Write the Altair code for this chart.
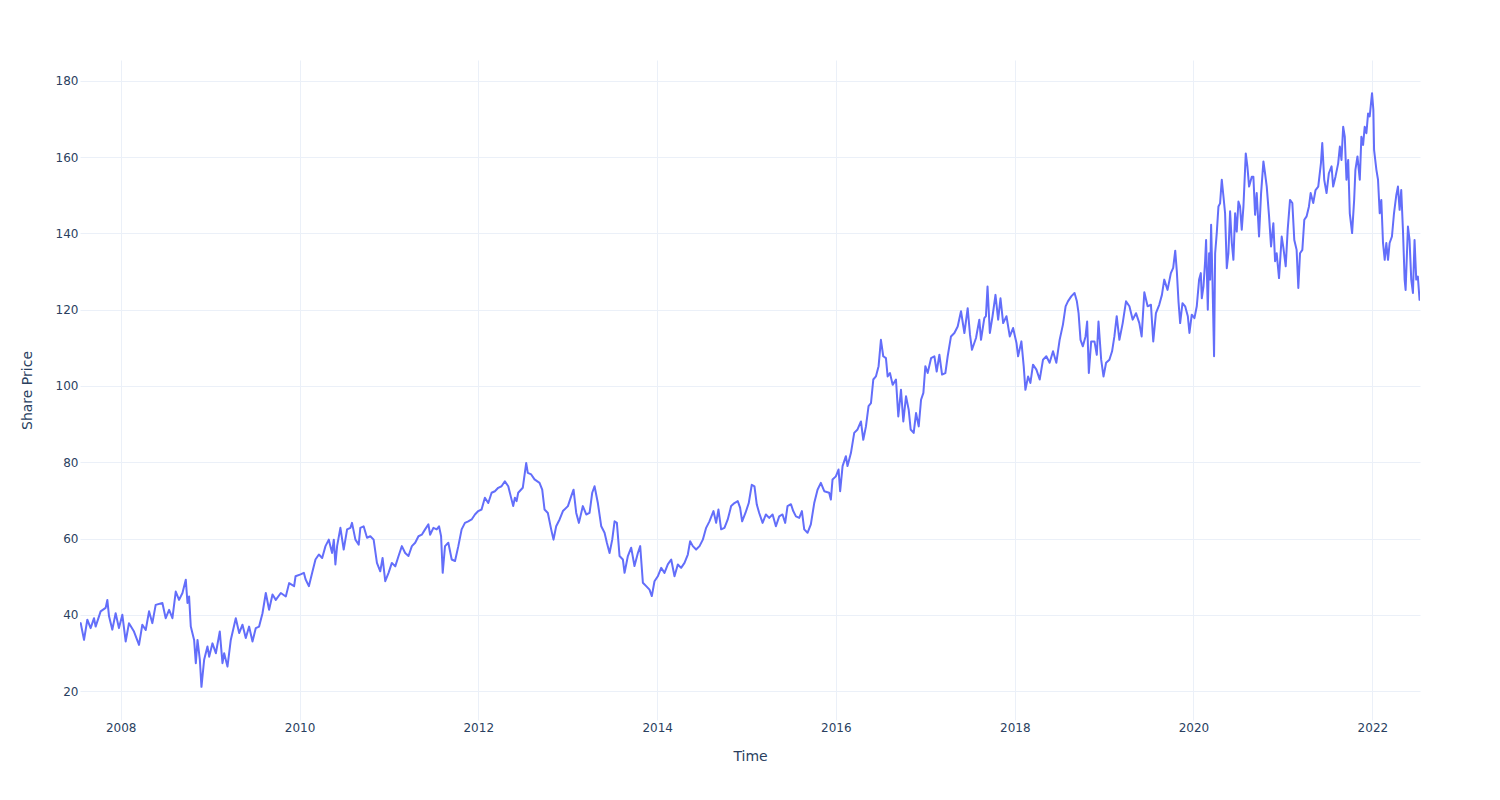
import altair as alt
import pandas as pd

# ---- data (decimal year, share price) ----
t_2007_2009 = [2007.545, 2007.553, 2007.590, 2007.627, 2007.664, 2007.702, 2007.720, 2007.776, 2007.832, 2007.851,
               2007.870, 2007.907, 2007.944, 2007.981, 2008.019, 2008.056, 2008.093, 2008.149, 2008.205, 2008.242,
               2008.280, 2008.317, 2008.354, 2008.391, 2008.466, 2008.503, 2008.541, 2008.578, 2008.615, 2008.652,
               2008.690, 2008.727, 2008.746, 2008.764, 2008.783, 2008.820, 2008.839, 2008.858, 2008.884, 2008.902,
               2008.932, 2008.969, 2008.988, 2009.025, 2009.063, 2009.107, 2009.137, 2009.156, 2009.193, 2009.230,
               2009.286, 2009.324, 2009.361, 2009.398, 2009.435, 2009.473, 2009.510, 2009.547, 2009.585, 2009.622,
               2009.659, 2009.697, 2009.734, 2009.790, 2009.846, 2009.883, 2009.939]
v_2007_2009 = [37.3, 37.8, 33.4, 38.7, 36.5, 39.1, 36.9, 40.9, 41.8, 43.9,
               39.6, 36.1, 40.4, 36.5, 40.0, 33.0, 37.8, 35.6, 32.1, 37.4,
               36.0, 40.9, 37.8, 42.6, 43.1, 39.1, 41.3, 39.1, 46.1, 43.9,
               45.7, 49.2, 43.1, 44.8, 36.9, 33.4, 27.3, 33.4, 28.2, 21.1,
               28.2, 31.7, 29.0, 32.5, 29.9, 35.6, 27.3, 29.9, 26.4, 33.4,
               39.1, 35.2, 37.4, 33.9, 36.9, 33.0, 36.5, 36.9, 40.4, 45.7,
               41.3, 45.3, 43.9, 45.7, 44.8, 48.3, 47.5]

t_2010_2012 = [2009.955, 2010.011, 2010.048, 2010.067, 2010.104, 2010.141, 2010.178, 2010.216, 2010.253, 2010.290,
               2010.327, 2010.364, 2010.383, 2010.401, 2010.420, 2010.457, 2010.494, 2010.532, 2010.569, 2010.587,
               2010.625, 2010.662, 2010.680, 2010.717, 2010.755, 2010.792, 2010.829, 2010.866, 2010.903, 2010.929,
               2010.959, 2010.996, 2011.033, 2011.071, 2011.108, 2011.145, 2011.182, 2011.219, 2011.257, 2011.294,
               2011.331, 2011.368, 2011.405, 2011.442, 2011.461, 2011.498, 2011.535, 2011.561, 2011.584, 2011.602,
               2011.628, 2011.665, 2011.703, 2011.740, 2011.777, 2011.814, 2011.851, 2011.888, 2011.926, 2011.963,
               2012.000, 2012.037, 2012.074, 2012.112, 2012.149, 2012.186, 2012.223, 2012.260, 2012.297, 2012.335,
               2012.372, 2012.390, 2012.409, 2012.428, 2012.446]
v_2010_2012 = [50.1, 50.6, 51.0, 49.3, 47.5, 51.0, 54.5, 55.8, 54.9, 58.0,
               59.7, 56.2, 59.7, 53.2, 58.0, 62.8, 57.1, 62.4, 62.8, 64.1,
               59.7, 58.4, 62.8, 63.2, 60.2, 60.6, 59.7, 53.6, 51.4, 54.9,
               48.8, 51.0, 53.6, 52.7, 55.4, 58.0, 56.2, 55.4, 58.0, 58.9,
               60.6, 61.0, 62.4, 63.7, 61.0, 62.8, 62.4, 63.2, 60.6, 51.0,
               58.0, 58.9, 54.5, 54.1, 58.0, 62.4, 64.1, 64.5, 65.0, 66.3,
               67.2, 67.6, 70.7, 69.3, 72.0, 72.4, 73.3, 73.7, 75.0, 73.7,
               70.2, 68.5, 70.7, 69.8, 72.0]

t_2012_2015 = [2012.497, 2012.535, 2012.553, 2012.591, 2012.628, 2012.684, 2012.714, 2012.740, 2012.777, 2012.814,
               2012.840, 2012.870, 2012.908, 2012.945, 2013.001, 2013.038, 2013.064, 2013.094, 2013.124, 2013.168,
               2013.206, 2013.243, 2013.273, 2013.299, 2013.336, 2013.374, 2013.411, 2013.437, 2013.467, 2013.497,
               2013.523, 2013.549, 2013.579, 2013.616, 2013.635, 2013.672, 2013.709, 2013.746, 2013.784, 2013.810,
               2013.840, 2013.877, 2013.914, 2013.940, 2013.970, 2014.007, 2014.045, 2014.082, 2014.119, 2014.157,
               2014.194, 2014.231, 2014.268, 2014.306, 2014.343, 2014.369, 2014.399, 2014.436, 2014.474, 2014.511,
               2014.548, 2014.585, 2014.630, 2014.660, 2014.686, 2014.716, 2014.753, 2014.790, 2014.828, 2014.865,
               2014.902, 2014.928, 2014.951, 2014.988, 2015.025, 2015.059, 2015.089, 2015.115]
v_2012_2015 = [73.3, 79.8, 77.2, 76.8, 75.5, 74.6, 72.8, 67.6, 66.7, 62.4,
               59.7, 63.2, 65.0, 67.2, 68.5, 71.1, 72.8, 66.7, 64.1, 68.5,
               66.3, 66.7, 72.0, 73.7, 69.3, 63.2, 61.5, 58.9, 56.2, 59.7,
               64.5, 64.1, 55.4, 54.5, 51.0, 55.4, 57.6, 52.8, 56.2, 58.0,
               48.4, 47.5, 46.6, 44.9, 48.8, 50.1, 52.3, 51.0, 53.2, 54.5,
               50.1, 53.2, 52.3, 53.6, 55.8, 59.3, 58.0, 57.1, 58.0, 59.7,
               62.8, 64.5, 67.2, 64.1, 67.6, 62.4, 62.8, 65.0, 68.5, 69.3,
               69.8, 68.1, 64.5, 66.7, 69.3, 74.1, 73.7, 68.9]

t_2015_2017 = [2015.142, 2015.180, 2015.217, 2015.254, 2015.292, 2015.329, 2015.366, 2015.403, 2015.433, 2015.459,
               2015.497, 2015.523, 2015.553, 2015.590, 2015.620, 2015.646, 2015.683, 2015.720, 2015.758, 2015.795,
               2015.832, 2015.870, 2015.925, 2015.944, 2015.963, 2016.000, 2016.030, 2016.048, 2016.075, 2016.112,
               2016.130, 2016.168, 2016.205, 2016.242, 2016.280, 2016.306, 2016.336, 2016.365, 2016.392, 2016.418,
               2016.447, 2016.477, 2016.503, 2016.529, 2016.559, 2016.578, 2016.604, 2016.634, 2016.671, 2016.697,
               2016.727, 2016.753, 2016.783, 2016.813, 2016.835, 2016.869, 2016.895, 2016.925, 2016.951, 2016.977,
               2016.999, 2017.025, 2017.063, 2017.100, 2017.126, 2017.156, 2017.186, 2017.223, 2017.249, 2017.286,
               2017.324, 2017.361, 2017.398, 2017.436, 2017.473, 2017.499, 2017.521, 2017.566, 2017.603, 2017.622,
               2017.659]
v_2015_2017 = [66.7, 64.1, 66.3, 65.4, 66.3, 63.2, 65.8, 66.3, 64.1, 68.5,
               69.0, 67.2, 65.8, 65.4, 67.2, 62.4, 61.5, 63.7, 69.3, 72.8,
               74.6, 72.4, 72.0, 70.2, 75.5, 76.3, 78.1, 72.4, 79.0, 81.6,
               79.0, 82.4, 87.7, 88.6, 90.7, 85.9, 89.4, 94.7, 95.5, 101.7,
               102.5, 105.2, 112.1, 107.8, 107.3, 102.5, 103.4, 100.3, 101.7, 92.0,
               99.0, 90.7, 97.3, 93.8, 88.6, 87.7, 92.9, 89.4, 96.4, 98.2,
               105.2, 103.4, 107.3, 107.8, 103.8, 108.2, 103.0, 103.4, 107.8, 113.0,
               113.9, 115.6, 119.6, 113.9, 120.4, 113.4, 109.5, 112.6, 117.4, 112.1,
               117.8]

t_2017_2019 = [2017.677, 2017.695, 2017.721, 2017.751, 2017.784, 2017.814, 2017.840, 2017.870, 2017.907, 2017.944,
               2017.981, 2018.019, 2018.037, 2018.074, 2018.100, 2018.119, 2018.149, 2018.175, 2018.204, 2018.242,
               2018.279, 2018.316, 2018.353, 2018.390, 2018.428, 2018.465, 2018.502, 2018.539, 2018.569, 2018.595,
               2018.632, 2018.669, 2018.695, 2018.714, 2018.736, 2018.762, 2018.792, 2018.810, 2018.829, 2018.855,
               2018.892, 2018.918, 2018.937, 2018.967, 2018.993, 2019.022, 2019.059, 2019.089, 2019.115, 2019.141,
               2019.171, 2019.208, 2019.245, 2019.283, 2019.320, 2019.357, 2019.394, 2019.420, 2019.450, 2019.487,
               2019.524, 2019.550, 2019.580, 2019.617, 2019.647, 2019.673, 2019.710, 2019.747, 2019.773, 2019.796,
               2019.814, 2019.833, 2019.851, 2019.877, 2019.907, 2019.937, 2019.955, 2019.981]
v_2017_2019 = [118.3, 126.1, 113.9, 118.3, 123.9, 117.4, 123.0, 116.5, 118.3, 113.0,
               115.2, 111.3, 107.8, 111.7, 105.2, 99.0, 102.5, 100.8, 105.6, 104.3,
               101.7, 106.9, 107.8, 106.1, 109.1, 106.1, 112.1, 116.1, 120.9, 122.2,
               123.5, 124.4, 122.2, 119.1, 112.1, 110.4, 113.0, 116.9, 103.4, 111.7,
               111.7, 108.2, 116.9, 106.9, 102.5, 106.1, 106.9, 109.1, 113.0, 118.3,
               112.1, 116.5, 122.2, 120.9, 117.4, 119.1, 116.5, 113.0, 124.6, 120.9,
               121.3, 111.7, 119.1, 121.3, 123.9, 127.9, 125.2, 129.6, 131.0, 135.5,
               130.0, 122.0, 116.5, 121.7, 120.9, 118.3, 113.9, 118.7]

t_2020_2022 = [2020.011, 2020.037, 2020.063, 2020.082, 2020.093, 2020.112, 2020.130, 2020.141, 2020.160, 2020.175,
               2020.186, 2020.197, 2020.212, 2020.230, 2020.242, 2020.260, 2020.279, 2020.297, 2020.316, 2020.335,
               2020.353, 2020.372, 2020.390, 2020.409, 2020.428, 2020.446, 2020.465, 2020.483, 2020.502, 2020.520,
               2020.539, 2020.558, 2020.584, 2020.602, 2020.621, 2020.651, 2020.669, 2020.688, 2020.706, 2020.732,
               2020.755, 2020.781, 2020.799, 2020.818, 2020.844, 2020.866, 2020.892, 2020.911, 2020.929, 2020.955,
               2020.985, 2021.004, 2021.030, 2021.052, 2021.078, 2021.104, 2021.126, 2021.152, 2021.171, 2021.190,
               2021.216, 2021.238, 2021.264, 2021.290, 2021.309, 2021.338, 2021.364, 2021.394, 2021.424, 2021.439,
               2021.461, 2021.487, 2021.513, 2021.543, 2021.561, 2021.587, 2021.617, 2021.636, 2021.654, 2021.673,
               2021.691, 2021.710, 2021.729, 2021.747, 2021.773, 2021.796, 2021.810, 2021.833, 2021.859, 2021.877,
               2021.896, 2021.914, 2021.933, 2021.952, 2021.970, 2021.996, 2022.011, 2022.019, 2022.045, 2022.063,
               2022.082, 2022.100, 2022.119, 2022.138, 2022.156, 2022.175, 2022.193, 2022.219, 2022.242, 2022.268,
               2022.286, 2022.305, 2022.323, 2022.342, 2022.361, 2022.372, 2022.398, 2022.416, 2022.435, 2022.454,
               2022.472, 2022.491, 2022.509, 2022.528, 2022.533]
v_2020_2022 = [117.8, 120.9, 127.9, 129.6, 123.0, 126.1, 132.7, 138.3, 120.0, 134.8,
               127.9, 142.3, 127.9, 107.8, 134.8, 140.1, 147.1, 147.9, 154.1, 149.7,
               145.3, 130.9, 134.8, 145.8, 137.5, 133.1, 145.3, 140.5, 148.4, 147.1,
               141.0, 147.1, 161.0, 157.6, 152.3, 154.9, 154.9, 144.9, 150.6, 139.2,
               150.6, 158.9, 155.8, 152.3, 144.5, 136.6, 142.7, 132.7, 134.8, 128.3,
               139.2, 136.2, 131.4, 141.0, 148.8, 148.0, 138.3, 135.7, 125.7, 134.8,
               135.7, 143.6, 144.5, 147.1, 150.6, 148.0, 151.4, 152.3, 158.4, 163.7,
               154.1, 150.6, 155.8, 157.6, 152.3, 154.9, 158.4, 162.8, 159.3, 168.0,
               165.4, 154.1, 159.3, 145.3, 140.1, 148.8, 156.7, 160.2, 154.1, 165.4,
               163.2, 168.0, 166.3, 171.5, 170.7, 176.8, 172.4, 161.9, 156.7, 154.1,
               145.3, 148.8, 137.5, 133.1, 137.5, 133.1, 137.5, 139.2, 145.3, 150.1,
               152.3, 146.2, 151.4, 141.0, 127.9, 125.2, 141.8, 138.3, 127.9, 124.4,
               138.3, 127.9, 128.7, 122.6, 123.0]

years = t_2007_2009 + t_2010_2012 + t_2012_2015 + t_2015_2017 + t_2017_2019 + t_2020_2022
prices = v_2007_2009 + v_2010_2012 + v_2012_2015 + v_2015_2017 + v_2017_2019 + v_2020_2022

x_tick_years = [2008, 2010, 2012, 2014, 2016, 2018, 2020, 2022]
y_ticks = [20, 40, 60, 80, 100, 120, 140, 160, 180]
y_domain = [12.4, 185.5]


def dec_to_ts(t):
    y = int(t)
    start = pd.Timestamp(year=y, month=1, day=1)
    end = pd.Timestamp(year=y + 1, month=1, day=1)
    return start + (end - start) * (t - y)


def to_dt(ts):
    return alt.DateTime(year=ts.year, month=ts.month, date=ts.day, hours=ts.hour, minutes=ts.minute)


stamps = [dec_to_ts(t) for t in years]
df = pd.DataFrame({"date": [s.strftime("%Y-%m-%dT%H:%M:%S") for s in stamps], "price": prices})

FONT = "DejaVu Sans"
TXT = "#2a3f5f"
GRID = "#EBF0F8"

x_axis = alt.Axis(
    values=[alt.DateTime(year=y, month=1, date=1) for y in x_tick_years],
    format="%Y", grid=True, gridColor=GRID, gridWidth=1, domain=False, ticks=False, tickSize=0,
    labelFont=FONT, labelFontSize=12, labelColor=TXT, labelPadding=2, labelAlign="center",
    titleFont=FONT, titleFontSize=14, titleColor=TXT, titleFontWeight="normal",
    titleX=670, titleY=36, titleAlign="center", titleBaseline="middle",
)
y_axis = alt.Axis(
    values=y_ticks, grid=True, gridColor=GRID, gridWidth=1, domain=False, ticks=False, tickSize=0,
    labelFont=FONT, labelFontSize=12, labelColor=TXT, labelPadding=2,
    titleFont=FONT, titleFontSize=14, titleColor=TXT, titleFontWeight="normal",
    titleX=-53, titleY=330, titleAngle=270, titleAlign="center", titleBaseline="middle",
)

chart = alt.Chart(df).mark_line(color="#636efa", strokeWidth=2, strokeJoin="round", clip=True).encode(
    x=alt.X("date:T", title="Time",
            scale=alt.Scale(domain=[to_dt(stamps[0]), to_dt(stamps[-1])], nice=False),
            axis=x_axis),
    y=alt.Y("price:Q", title="Share Price",
            scale=alt.Scale(domain=y_domain, nice=False, zero=False),
            axis=y_axis),
).properties(
    width=1340, height=660,
    padding={"left": 80, "top": 60, "right": 80, "bottom": 80},
    autosize=alt.AutoSizeParams(type="none"),
    background="white",
).configure_view(stroke="transparent")

chart.save("out.html", embed_options={"renderer": "svg", "actions": False})
